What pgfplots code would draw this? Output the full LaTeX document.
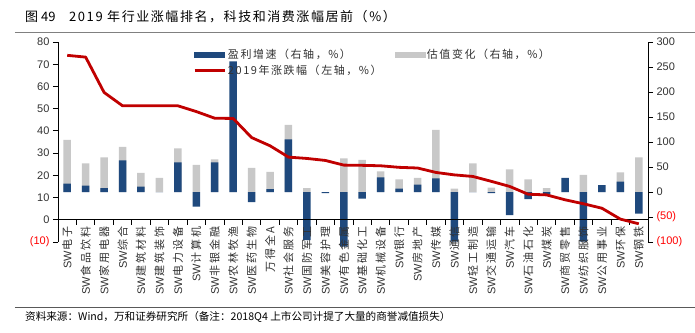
\documentclass[border=0pt]{standalone}
\usepackage{fontspec}
\usepackage{pgfplots}
\usepackage{pgfplotstable}
\pgfplotsset{compat=1.18}
\setmainfont{Liberation Sans}
\newfontfamily\cjk{Noto Sans CJK SC}
\newfontfamily\cjkls[LetterSpace=18]{Noto Sans CJK SC}
\newfontfamily\cjkleg[LetterSpace=14]{Noto Sans CJK SC}
\newfontfamily\cjktitle[LetterSpace=12]{Noto Sans CJK SC}
\definecolor{barblue}{RGB}{31,73,125}
\definecolor{bargrey}{RGB}{200,200,200}
\definecolor{linered}{RGB}{192,0,0}
\definecolor{ticktext}{RGB}{50,50,50}

\pgfplotstableread{
i blue grey chg
0 17 104 74.0
1 13 57 73.2
2 8 69 57.3
3 63 90 51.3
4 11 38 51.3
5 0 28 51.3
6 59 87 51.3
7 -29 54 48.7
8 59 65 45.7
9 261 0 45.6
10 -20 48 37.0
11 6 40 33.3
12 105 134 28.2
13 -96 8 27.6
14 -2 0 26.7
15 -109 67 24.6
16 -13 64 24.5
17 29 41 24.3
18 7 25 23.6
19 15 28 23.3
20 27 124 21.3
21 -99 7 20.2
22 0 57 19.5
23 -2 9 17.3
24 -46 45 15.0
25 -14 25 11.5
26 -5 8 11.2
27 28 0 9.0
28 -99 34 7.2
29 14 0 5.2
30 21 39 0.3
31 -43 69 -1.8
}\datatable

\begin{document}
\begin{tikzpicture}[x=1pt,y=1pt]
% right axis: bars
\begin{axis}[name=ax, scale only axis,
  width=590pt, height=200pt,
  xmin=-0.5, xmax=31.5, ymin=-100, ymax=300,
  axis y line*=right, axis x line=none, xtick=\empty,
  axis line style={-, black, line width=0.8pt},
  ytick={-100,-50,0,50,100,150,200,250,300},
  yticklabels={\textcolor{red}{(100)},\textcolor{red}{(50)},0,50,100,150,200,250,300},
  yticklabel style={font=\fontsize{11}{11}\selectfont, text=ticktext},
  ytick align=outside, major tick length=5pt,
  ytick style={black, line width=0.8pt},
  clip=false]
\addplot[ybar, bar width=7.5pt, bar shift=0pt, fill=bargrey, draw=none] table[x=i, y=grey]{\datatable};
\addplot[ybar, bar width=7.5pt, bar shift=0pt, fill=barblue, draw=none] table[x=i, y=blue]{\datatable};
\end{axis}

% left axis: line
\begin{axis}[at={(ax.south west)}, anchor=south west, scale only axis,
  width=590pt, height=200pt,
  xmin=-0.5, xmax=31.5, ymin=-10, ymax=80,
  axis y line*=left, axis x line=middle,
  axis line style={-, black, line width=0.8pt},
  hide obscured x ticks=false,
  ytick={-10,0,10,20,30,40,50,60,70,80},
  yticklabels={\textcolor{red}{(10)},0,10,20,30,40,50,60,70,80},
  yticklabel style={font=\fontsize{11}{11}\selectfont, text=ticktext},
  ytick align=outside, major tick length=5pt, minor tick length=5pt,
  ytick style={black, line width=0.8pt},
  xtick={0,...,31},
  minor xtick={-0.5,0.5,...,31.5},
  xtick align=outside,
  major x tick style={draw=none},
  minor x tick style={black, line width=0.8pt},
  xticklabels={SW\cjkls 电子, SW\cjkls 食品饮料, SW\cjkls 家用电器, SW\cjkls 综合, SW\cjkls 建筑材料, SW\cjkls 建筑装饰, SW\cjkls 电力设备, SW\cjkls 计算机, SW\cjkls 非银金融, SW\cjkls 农林牧渔, SW\cjkls 医药生物, \cjkls 万得全A, SW\cjkls 社会服务, SW\cjkls 国防军工, SW\cjkls 美容护理, SW\cjkls 有色金属, SW\cjkls 基础化工, SW\cjkls 机械设备, SW\cjkls 银行, SW\cjkls 房地产, SW\cjkls 传媒, SW\cjkls 通信, SW\cjkls 轻工制造, SW\cjkls 交通运输, SW\cjkls 汽车, SW\cjkls 石油石化, SW\cjkls 煤炭, SW\cjkls 商贸零售, SW\cjkls 纺织服饰, SW\cjkls 公用事业, SW\cjkls 环保, SW\cjkls 钢铁},
  xticklabel style={rotate=90, anchor=east, font=\fontsize{11}{11}\selectfont, text=ticktext, inner sep=2pt},
  legend columns=2, legend cell align=left,
  legend style={at={(0.2237,0.985)}, anchor=north west, draw=none, fill=none,
    font=\cjkleg\fontsize{11}{13}\selectfont, text=ticktext,
    /tikz/every even column/.append style={column sep=11pt}, row sep=1pt},
  clip=false]
\addlegendimage{legend image code/.code={\fill[barblue] (0pt,-2.7pt) rectangle (30pt,2.7pt);}}
\addlegendentry{盈利增速（右轴，\%）}
\addlegendimage{legend image code/.code={\fill[bargrey] (0pt,-2.7pt) rectangle (30pt,2.7pt);}}
\addlegendentry{估值变化（右轴，\%）}
\addplot[linered, line width=2.8pt, line join=round, mark=none,
  legend image code/.code={\draw[linered, line width=2.8pt] (0pt,0pt) -- (30pt,0pt);}]
  table[x=i, y=chg]{\datatable};
\addlegendentry{2019年涨跌幅（左轴，\%）}
\end{axis}

\begin{scope}[shift={(ax.south west)}, shift={(-58,-90)}]
\node[anchor=west, inner sep=0pt, font=\cjk\fontsize{13}{14}\selectfont] at (25,315) {图 49};
\node[anchor=west, inner sep=0pt, font=\cjktitle\fontsize{13}{14}\selectfont] at (69,315) {2019 年行业涨幅排名，科技和消费涨幅居前（\%）};
\draw[gray, line width=1.2pt] (15,299.5) -- (695,299.5);
\draw[gray!70!black, line width=1pt] (15,24.5) -- (695,24.5);
\node[anchor=west, inner sep=0pt, font=\cjk\fontsize{10.6}{12}\selectfont] at (25,15) {资料来源：Wind，万和证券研究所（备注：2018Q4 上市公司计提了大量的商誉减值损失）};
\end{scope}
\pgfresetboundingbox
\path[use as bounding box] ([shift={(-58,-90)}]ax.south west) rectangle ([shift={(637,242)}]ax.south west);
\end{tikzpicture}
\end{document}
